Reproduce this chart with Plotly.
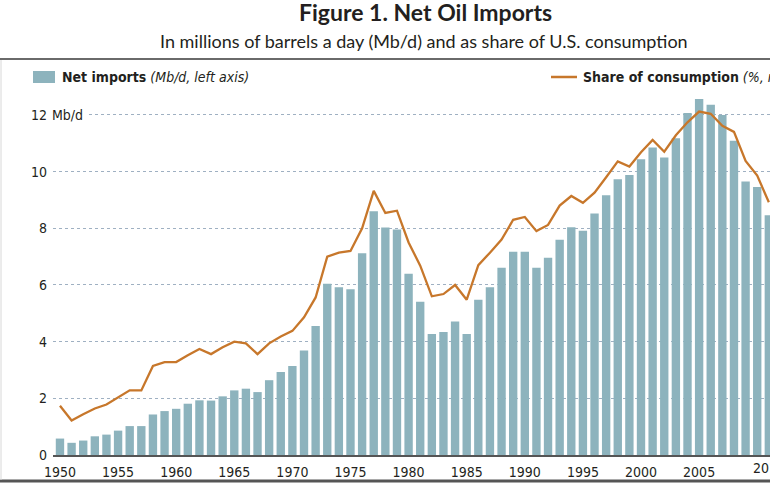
import plotly.graph_objects as go

years = list(range(1950, 2012))

net_imports = [
    0.58, 0.43, 0.51, 0.66, 0.72, 0.86, 1.02, 1.02, 1.43, 1.55,
    1.63, 1.81, 1.93, 1.92, 2.07, 2.28, 2.34, 2.22, 2.64, 2.93,
    3.14, 3.69, 4.55, 6.04, 5.92, 5.85, 7.12, 8.60, 8.03, 7.96,
    6.40, 5.41, 4.27, 4.34, 4.71, 4.27, 5.48, 5.92, 6.61, 7.17,
    7.17, 6.61, 6.96, 7.60, 8.04, 7.91, 8.52, 9.17, 9.73, 9.88,
    10.44, 10.85, 10.50, 11.18, 12.07, 12.56, 12.36, 12.00, 11.09, 9.65,
    9.46, 8.46,
]

share_pct = [
    8.7, 6.1, 7.2, 8.2, 8.9, 10.1, 11.4, 11.4, 15.7, 16.4,
    16.4, 17.6, 18.7, 17.8, 19.0, 20.0, 19.7, 17.8, 19.7, 20.9,
    21.9, 24.3, 27.8, 35.0, 35.7, 36.0, 40.0, 46.6, 42.7, 43.1,
    37.5, 33.4, 28.0, 28.4, 30.0, 27.4, 33.5, 35.7, 38.0, 41.5,
    42.0, 39.5, 40.6, 44.0, 45.7, 44.5, 46.3, 49.0, 51.8, 50.9,
    53.4, 55.6, 53.5, 56.4, 58.7, 60.6, 60.2, 58.1, 57.0, 51.9,
    49.3, 44.6,
]

y_ticks = [0, 2, 4, 6, 8, 10, 12]
y_tick_text = ["0", "2", "4", "6", "8", "10", "12"]
x_ticks = [1950, 1955, 1960, 1965, 1970, 1975, 1980, 1985, 1990, 1995, 2000, 2005]
x_edge_label = "2010"

BAR = "#8db3bd"
LINE = "#c7772b"
TXT = "#231f20"
NARROW = "Liberation Sans Narrow, DejaVu Sans Condensed, Arial Narrow, Roboto, sans-serif"
TITLEF = "Lato, Open Sans, sans-serif"

W, H = 770, 485
ML, MR, MT, MB = 53, 0, 90, 30
PW = W - ML - MR
PH = H - MT - MB


def px(x):
    return (x - ML) / PW


def py(y):
    return (H - MB - y) / PH


Y_MAX = 12.88

fig = go.Figure()
fig.add_trace(go.Bar(x=years, y=net_imports, marker=dict(color=BAR, line=dict(width=0)),
                     name="Net imports", showlegend=False))
fig.add_trace(go.Scatter(x=years, y=share_pct, mode="lines", yaxis="y2",
                         line=dict(color=LINE, width=2.3), name="Share", showlegend=False))

fig.update_layout(
    width=W, height=H,
    margin=dict(l=ML, r=MR, t=MT, b=MB, pad=0),
    paper_bgcolor="white", plot_bgcolor="white",
    bargap=0.28,
    xaxis=dict(range=[1949.40, 2011.10], tickvals=x_ticks, ticks="",
               tickfont=dict(family=NARROW, size=14, color=TXT),
               showline=True, linecolor="#555555", linewidth=1.5,
               showgrid=False, zeroline=False, ticklabelstandoff=3),
    yaxis=dict(range=[0, Y_MAX], tickvals=y_ticks, ticktext=y_tick_text, ticks="",
               tickfont=dict(family=NARROW, size=14, color=TXT),
               showgrid=True, gridcolor="#9fb0c2", griddash="dot", gridwidth=1,
               zeroline=False, showline=False, ticklabelstandoff=5),
    yaxis2=dict(range=[0, Y_MAX * 5], overlaying="y", side="right",
                showticklabels=False, showgrid=False, zeroline=False, ticks=""),
)

# last x label, cut by the right edge of the picture as in the original
fig.add_annotation(x=px(752), y=py(468), xref="paper", yref="paper", text=x_edge_label,
                   showarrow=False, xanchor="left", yanchor="middle", borderpad=0,
                   font=dict(family=NARROW, size=14, color=TXT))

# "Mb/d" unit next to the top tick label (covers the start of the 12 gridline)
fig.add_shape(type="rect", xref="paper", yref="y", x0=px(53), x1=px(89),
              y0=11.9, y1=12.1, fillcolor="white", line=dict(width=0), layer="above")
fig.add_annotation(x=px(51), y=12, xref="paper", yref="y", text="Mb/d",
                   showarrow=False, xanchor="left", yanchor="middle", borderpad=0,
                   font=dict(family=NARROW, size=14, color=TXT))

# Titles
fig.add_annotation(x=px(425), y=py(12), xref="paper", yref="paper",
                   text="<b>Figure 1. Net Oil Imports</b>", showarrow=False,
                   xanchor="center", yanchor="middle",
                   font=dict(family=TITLEF, size=23, color=TXT))
fig.add_annotation(x=px(424), y=py(41), xref="paper", yref="paper",
                   text="In millions of barrels a day (Mb/d) and as share of U.S. consumption",
                   showarrow=False, xanchor="center", yanchor="middle",
                   font=dict(family=TITLEF, size=18, color=TXT))

# Legend
fig.add_shape(type="rect", xref="paper", yref="paper", x0=px(33), x1=px(55),
              y0=py(83), y1=py(71), fillcolor=BAR, line=dict(width=0))
fig.add_annotation(x=px(60), y=py(77), xref="paper", yref="paper",
                   text="<b>Net imports</b> <i>(Mb/d, left axis)</i>", showarrow=False,
                   xanchor="left", yanchor="middle",
                   font=dict(family=NARROW, size=14, color=TXT))
fig.add_shape(type="line", xref="paper", yref="paper", x0=px(551), x1=px(577),
              y0=py(77), y1=py(77), line=dict(color=LINE, width=2.5))
fig.add_annotation(x=px(581), y=py(77), xref="paper", yref="paper",
                   text="<b>Share of consumption</b> <i>(%, right axis)</i>", showarrow=False,
                   xanchor="left", yanchor="middle",
                   font=dict(family=NARROW, size=14, color=TXT))

# Frame lines
fig.add_shape(type="line", xref="paper", yref="paper", x0=px(0), x1=px(770),
              y0=py(59), y1=py(59), line=dict(color="#6a6a6a", width=2))
fig.add_shape(type="line", xref="paper", yref="paper", x0=px(0), x1=px(770),
              y0=py(481), y1=py(481), line=dict(color="#555555", width=3))
fig.add_shape(type="line", xref="paper", yref="paper", x0=px(1), x1=px(1),
              y0=py(60), y1=py(480), line=dict(color="#d8d8d8", width=1))

fig.write_html(
    "out.html",
    config={"displayModeBar": False},
    post_script="document.body.style.margin='0';document.body.style.overflow='hidden';",
)
